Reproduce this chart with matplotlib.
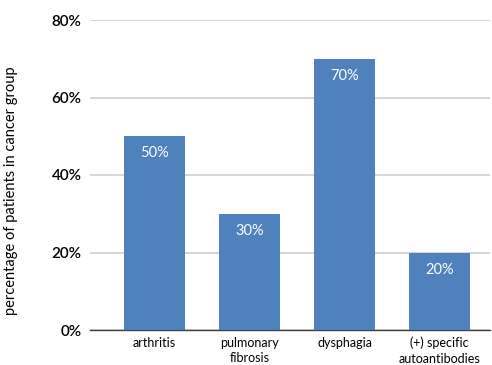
import matplotlib
matplotlib.use("Agg")
import matplotlib.pyplot as plt
from matplotlib.ticker import FuncFormatter

categories = ["arthritis", "pulmonary\nfibrosis", "dysphagia", "(+) specific\nautoantibodies"]
values = [50, 30, 70, 20]
yticks = [0, 20, 40, 60, 80]

plt.rcParams["font.family"] = ["Lato", "DejaVu Sans"]

fig = plt.figure(figsize=(4.92, 3.65), dpi=100)
ax = fig.add_axes([90 / 492, 35 / 365, 400 / 492, 310 / 365])

x = list(range(len(categories)))
bars = ax.bar(x, values, width=0.64, color="#4F81BD", zorder=3)
for b, v in zip(bars, values):
    ax.text(b.get_x() + b.get_width() / 2, v - 4.4, f"{v}%", ha="center", va="center",
            color="white", fontsize=10.5, zorder=4)

ax.set_xlim(-0.68, 3.53)
ax.set_ylim(0, 80)
ax.set_yticks(yticks)
ax.yaxis.set_major_formatter(FuncFormatter(lambda v, p: f"{int(v)}%"))
ax.set_xticks(x)
ax.set_xticklabels(categories, fontsize=9, linespacing=1.35)
ax.tick_params(axis="y", labelsize=11, length=0, pad=6)
ax.tick_params(axis="x", length=0, pad=5)
for lbl in ax.get_yticklabels():
    lbl.set_fontweight("semibold")
ax.grid(axis="y", color="#d0d0d0", linewidth=1.2, zorder=0)
for s in ["top", "right", "left"]:
    ax.spines[s].set_visible(False)
ax.spines["bottom"].set_color("#404040")
ax.spines["bottom"].set_linewidth(1.0)
ax.set_ylabel("percentage of patients in cancer group", fontsize=10.5)
ax.yaxis.set_label_coords(-0.18, 0.45)

fig.savefig("out.png", dpi=100)
